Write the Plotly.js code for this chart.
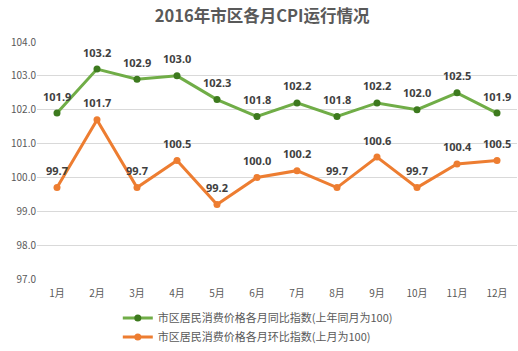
<!DOCTYPE html>
<html>
<head>
<meta charset="utf-8">
<script src="https://cdn.plot.ly/plotly-3.0.1.min.js"></script>
<style>html,body{margin:0;padding:0;background:#fff;}#chart{width:518px;height:351px;}</style>
</head>
<body>
<div id="chart"></div>
<script>
const months = ["1月","2月","3月","4月","5月","6月","7月","8月","9月","10月","11月","12月"];
const yoy = [101.9,103.2,102.9,103.0,102.3,101.8,102.2,101.8,102.2,102.0,102.5,101.9];
const mom = [99.7,101.7,99.7,100.5,99.2,100.0,100.2,99.7,100.6,99.7,100.4,100.5];
const yoyName = "市区居民消费价格各月同比指数(上年同月为100)";
const momName = "市区居民消费价格各月环比指数(上月为100)";
const titleText = "2016年市区各月CPI运行情况";

const font = "'Noto Sans CJK SC', 'Noto Sans', sans-serif";
const traces = [
  {x: months, y: yoy, name: yoyName, type: "scatter", mode: "lines+markers",
   line: {color: "#70AD47", width: 3}, marker: {color: "#3D7A1E", size: 7}, cliponaxis: false},
  {x: months, y: mom, name: momName, type: "scatter", mode: "lines+markers",
   line: {color: "#ED7D31", width: 3}, marker: {color: "#ED7D31", size: 7}, cliponaxis: false}
];
const annotations = [];
[yoy, mom].forEach(series => {
  series.forEach((v, i) => {
    annotations.push({x: months[i], y: v, xref: "x", yref: "y", text: "<b>" + v.toFixed(1) + "</b>",
      showarrow: false, yshift: 17, font: {size: 11, color: "#404040", family: "'Noto Sans', sans-serif"}});
  });
});
const layout = {
  width: 518, height: 351,
  margin: {l: 37, r: 1, t: 42, b: 72},
  paper_bgcolor: "#fff", plot_bgcolor: "#fff",
  font: {family: font, color: "#595959", size: 10},
  title: {text: "<b>" + titleText + "</b>", x: 0.506, xanchor: "center", y: 0.955, yanchor: "middle",
          font: {size: 16.5, color: "#595959", family: font}},
  xaxis: {type: "category", range: [-0.5, 11.5], showgrid: false, zeroline: false, showline: false,
          ticks: "", ticklabelstandoff: 7, tickfont: {size: 10, color: "#595959"}, fixedrange: true},
  yaxis: {range: [97, 104], dtick: 1, tickformat: ".1f", showgrid: true, gridcolor: "#D9D9D9", gridwidth: 1,
          zeroline: false, showline: false, ticks: "", tickfont: {size: 10, color: "#595959"}, fixedrange: true},
  annotations: annotations,
  showlegend: true,
  legend: {orientation: "v", x: 0.46, xanchor: "center", yref: "container", y: 0.135, yanchor: "top",
           font: {size: 11, color: "#595959", family: font}, tracegroupgap: 0, itemwidth: 30,
           bgcolor: "rgba(0,0,0,0)"},
};
Plotly.newPlot("chart", traces, layout, {displayModeBar: false, staticPlot: true});
</script>
</body>
</html>
